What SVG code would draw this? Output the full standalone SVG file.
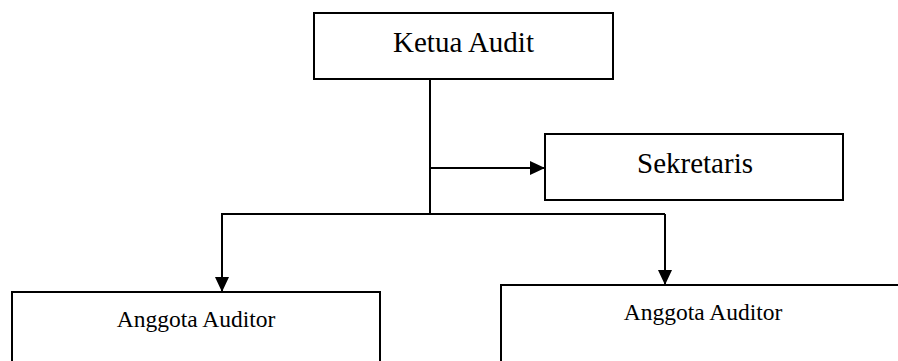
<svg xmlns="http://www.w3.org/2000/svg" width="898" height="361" viewBox="0 0 898 361">
<style>
.box{fill:#fff;stroke:#000;stroke-width:2}
.ln{fill:none;stroke:#000;stroke-width:2}
.t{font-family:"Liberation Serif","Times New Roman",serif;fill:#000;text-anchor:middle}
</style>
<defs>
<marker id="ah" viewBox="0 0 15 14" refX="15" refY="7" markerWidth="15" markerHeight="14" markerUnits="userSpaceOnUse" orient="auto">
<path d="M0,0 L15,7 L0,14 Z" fill="#000"/>
</marker>
</defs>
<rect width="898" height="361" fill="#fff"/>
<g id="connectors">
<path class="ln" d="M430,79 V214"/>
<path class="ln" d="M431,168 H545" marker-end="url(#ah)"/>
<path class="ln" d="M221,214 H665"/>
<path class="ln" d="M222,214 V292" marker-end="url(#ah)"/>
<path class="ln" d="M665,214 V285" marker-end="url(#ah)"/>
</g>
<g id="ketua">
<rect class="box" x="314" y="13" width="299" height="66"/>
<text class="t" x="463.5" y="52" font-size="29">Ketua Audit</text>
</g>
<g id="sekretaris">
<rect class="box" x="545" y="134" width="298" height="66"/>
<text class="t" x="695" y="173" font-size="29">Sekretaris</text>
</g>
<g id="anggota1">
<rect class="box" x="12" y="292" width="368" height="90"/>
<text class="t" x="196" y="327" font-size="23.5">Anggota Auditor</text>
</g>
<g id="anggota2">
<rect class="box" x="501" y="285" width="404" height="90"/>
<text class="t" x="703" y="320" font-size="23.5">Anggota Auditor</text>
</g>
</svg>
